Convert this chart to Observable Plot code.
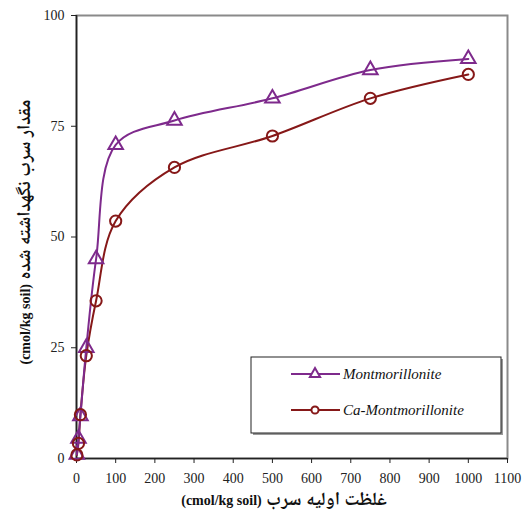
<!DOCTYPE html>
<html>
<head>
<meta charset="utf-8">
<script src="https://cdn.jsdelivr.net/npm/d3@7"></script>
<script src="https://cdn.jsdelivr.net/npm/@observablehq/plot@0.6"></script>
<style>
  html, body { margin: 0; padding: 0; background: #fff; }
  #chart { width: 523px; height: 518px; }
  #chart svg text { font-family: "Liberation Serif", "Times New Roman", serif; }
  #chart svg text.fa { font-family: "Liberation Serif", "Noto Naskh Arabic", "DejaVu Sans", serif; }
</style>
</head>
<body>
<div id="chart"></div>
<script>
// ---- data ----
const concentration = [1, 5, 10, 25, 50, 100, 250, 500, 750, 1000];
const montmorillonite = [0.9, 4.5, 9.6, 25.0, 45.0, 70.8, 76.3, 81.3, 87.7, 90.2];
const caMontmorillonite = [0.8, 3.4, 9.9, 23.2, 35.6, 53.6, 65.7, 72.8, 81.3, 86.7];
const seriesNames = ["Montmorillonite", "Ca-Montmorillonite"];
const xTicks = [0, 100, 200, 300, 400, 500, 600, 700, 800, 900, 1000, 1100];
const yTicks = [0, 25, 50, 75, 100];
const xLabelFa = "غلظت اولیه سرب";
const yLabelFa = "مقدار سرب نگهداشته شده";
const unitLabel = "(cmol/kg soil)";

const colors = ["#7e2a8c", "#861818"];
const symbols = ["triangle", "circle"];

const rowsM = concentration.map((c, i) => ({x: c, y: montmorillonite[i]}));
const rowsC = concentration.map((c, i) => ({x: c, y: caMontmorillonite[i]}));

const W = 523, H = 518;
const mL = 76, mR = 16, mT = 15, mB = 60;

const chart = Plot.plot({
  width: W, height: H,
  marginLeft: mL, marginRight: mR, marginTop: mT, marginBottom: mB,
  style: {fontSize: "14px", color: "#222", background: "#fff"},
  x: {domain: [0, 1100]},
  y: {domain: [0, 100]},
  marks: [
    Plot.frame({stroke: "#8a8a8a", strokeWidth: 2}),
    Plot.ruleX([0], {stroke: "#222", strokeWidth: 1.6}),
    Plot.ruleY([0], {stroke: "#222", strokeWidth: 1.6}),
    Plot.axisX({ticks: xTicks, tickSize: 5, tickPadding: 10, label: null, tickFormat: d => String(d), stroke: "#222"}),
    Plot.axisY({ticks: yTicks, tickSize: 5, tickPadding: 7, label: null, tickFormat: d => String(d), stroke: "#222"}),
    Plot.line(rowsC, {x: "x", y: "y", stroke: colors[1], strokeWidth: 2, curve: "catmull-rom"}),
    Plot.line(rowsM, {x: "x", y: "y", stroke: colors[0], strokeWidth: 2, curve: "catmull-rom"}),
    Plot.dot(rowsM, {x: "x", y: "y", symbol: symbols[0], r: 5.4, stroke: colors[0], strokeWidth: 2, fill: "none"}),
    Plot.dot(rowsC, {x: "x", y: "y", symbol: symbols[1], r: 5.6, stroke: colors[1], strokeWidth: 2, fill: "none"})
  ]
});

const svg = d3.select(chart);

function axisTitle(sel, fa) {
  sel.attr("class", "fa")
    .attr("text-anchor", "middle")
    .attr("direction", "rtl")
    .attr("font-weight", "bold")
    .attr("fill", "#111");
  sel.append("tspan").attr("font-size", 18.5).text(fa + " ");
  sel.append("tspan").attr("font-size", 14).text(unitLabel);
}

axisTitle(svg.append("text").attr("x", 284).attr("y", 505), xLabelFa);
axisTitle(svg.append("text").attr("transform", "translate(30,232) rotate(-90)"), yLabelFa);

// legend
const lg = svg.append("g").attr("text-anchor", "start");
lg.append("rect").attr("x", 253).attr("y", 359).attr("width", 250).attr("height", 76).attr("fill", "#9a9a9a");
lg.append("rect").attr("x", 251).attr("y", 357).attr("width", 250).attr("height", 76).attr("fill", "#fff").attr("stroke", "#222").attr("stroke-width", 1);
const rowsY = [374, 410];
seriesNames.forEach((name, i) => {
  const y = rowsY[i];
  lg.append("line").attr("x1", 291).attr("x2", 340).attr("y1", y).attr("y2", y).attr("stroke", colors[i]).attr("stroke-width", 2);
  const sym = d3.symbol().type(i === 0 ? d3.symbolTriangle : d3.symbolCircle).size(i === 0 ? 45 : 40);
  lg.append("path").attr("d", sym()).attr("transform", `translate(315,${y})`).attr("fill", "#fff").attr("stroke", colors[i]).attr("stroke-width", 2);
  lg.append("text").attr("x", 343).attr("y", y).attr("dy", "0.35em").attr("text-anchor", "start")
    .attr("font-style", "italic").attr("font-size", 15).attr("fill", "#111")
    .text(name);
});

document.getElementById("chart").appendChild(chart);
</script>
</body>
</html>
